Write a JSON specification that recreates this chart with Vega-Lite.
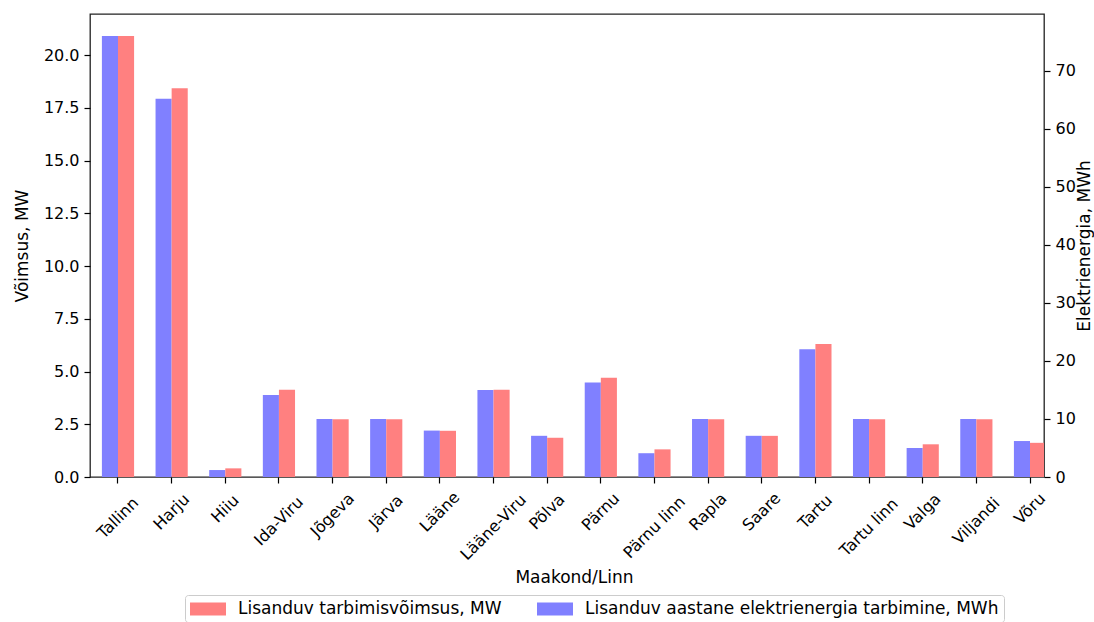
{
  "$schema": "https://vega.github.io/schema/vega-lite/v6.json",
  "width": 954,
  "height": 463,
  "autosize": {"type": "none"},
  "padding": {"left": 90, "top": 14, "right": 50, "bottom": 145},
  "background": "white",
  "data": {
    "values": [
      {"maakond": "Tallinn", "MW": 20.9, "MWh": 76},
      {"maakond": "Harju", "MW": 18.43, "MWh": 65.2},
      {"maakond": "Hiiu", "MW": 0.41, "MWh": 1.2},
      {"maakond": "Ida-Viru", "MW": 4.13, "MWh": 14.15},
      {"maakond": "Jõgeva", "MW": 2.74, "MWh": 10},
      {"maakond": "Järva", "MW": 2.74, "MWh": 10},
      {"maakond": "Lääne", "MW": 2.19, "MWh": 8},
      {"maakond": "Lääne-Viru", "MW": 4.13, "MWh": 15},
      {"maakond": "Põlva", "MW": 1.86, "MWh": 7.1},
      {"maakond": "Pärnu", "MW": 4.7, "MWh": 16.3},
      {"maakond": "Pärnu linn", "MW": 1.31, "MWh": 4.1},
      {"maakond": "Rapla", "MW": 2.74, "MWh": 10},
      {"maakond": "Saare", "MW": 1.95, "MWh": 7.1},
      {"maakond": "Tartu", "MW": 6.3, "MWh": 22},
      {"maakond": "Tartu linn", "MW": 2.74, "MWh": 10},
      {"maakond": "Valga", "MW": 1.55, "MWh": 5},
      {"maakond": "Viljandi", "MW": 2.74, "MWh": 10},
      {"maakond": "Võru", "MW": 1.62, "MWh": 6.2}
    ]
  },
  "transform": [{"fold": ["MWh", "MW"], "as": ["seeria", "vaartus"]}],
  "encoding": {
    "x": {
      "field": "maakond",
      "type": "nominal",
      "sort": null,
      "scale": {"range": [11.9, 956.1], "paddingInner": 0.4, "paddingOuter": 0},
      "axis": {
        "title": "Maakond/Linn",
        "labelAngle": -45,
        "labelAlign": "center",
        "labelBaseline": "middle",
        "labelPadding": {"expr": "13 + 3.1 * length(datum.label)"},
        "labelOverlap": false,
        "labelBound": false,
        "titlePadding": 7
      }
    },
    "xOffset": {
      "field": "seeria",
      "scale": {"domain": ["MWh", "MW"], "paddingInner": 0, "paddingOuter": 0}
    },
    "color": {
      "field": "seeria",
      "type": "nominal",
      "scale": {"domain": ["MW", "MWh"], "range": ["#ff8080", "#8080ff"]},
      "legend": {
        "title": null,
        "orient": "none",
        "legendX": 95,
        "legendY": 581,
        "direction": "horizontal",
        "symbolType": "M-1,-0.72H3V0.72H-1Z",
        "symbolSize": 324,
        "symbolStrokeWidth": 0,
        "symbolOpacity": 1,
        "labelOffset": 30,
        "columnPadding": 35,
        "padding": 5,
        "strokeColor": "#cccccc",
        "fillColor": "white",
        "cornerRadius": 3,
        "labelFont": "DejaVu Sans",
        "labelFontSize": 17,
        "labelColor": "#000000",
        "labelLimit": 0,
        "labelExpr": "datum.value === 'MW' ? 'Lisanduv tarbimisvõimsus, MW' : 'Lisanduv aastane elektrienergia tarbimine, MWh'"
      }
    }
  },
  "layer": [
    {
      "transform": [{"filter": "datum.seeria === 'MWh'"}],
      "mark": {"type": "bar", "clip": true, "opacity": 1},
      "encoding": {
        "y": {
          "field": "vaartus",
          "type": "quantitative",
          "scale": {"domain": [0, 79.8], "nice": false, "zero": true},
          "axis": {
            "orient": "right",
            "title": "Elektrienergia, MWh",
            "titleAngle": 270,
            "titleBaseline": "top",
            "values": [0, 10, 20, 30, 40, 50, 60, 70],
            "format": "d",
            "titlePadding": 1
          }
        }
      }
    },
    {
      "transform": [{"filter": "datum.seeria === 'MW'"}],
      "mark": {"type": "bar", "clip": true, "opacity": 1},
      "encoding": {
        "y": {
          "field": "vaartus",
          "type": "quantitative",
          "scale": {"domain": [0, 21.945], "nice": false, "zero": true},
          "axis": {
            "orient": "left",
            "title": "Võimsus, MW",
            "values": [0, 2.5, 5, 7.5, 10, 12.5, 15, 17.5, 20],
            "format": ".1f",
            "titlePadding": 12
          }
        }
      }
    }
  ],
  "resolve": {"scale": {"y": "independent"}},
  "config": {
    "view": {"stroke": "#222222", "strokeWidth": 1.3},
    "font": "DejaVu Sans",
    "axis": {
      "labelFont": "DejaVu Sans",
      "labelFontSize": 16,
      "labelColor": "#000000",
      "titleFont": "DejaVu Sans",
      "titleFontSize": 17,
      "titleFontWeight": "normal",
      "titleColor": "#000000",
      "tickColor": "#000000",
      "tickSize": 6,
      "tickWidth": 1.2,
      "labelPadding": 5,
      "domain": false,
      "grid": false
    }
  }
}
